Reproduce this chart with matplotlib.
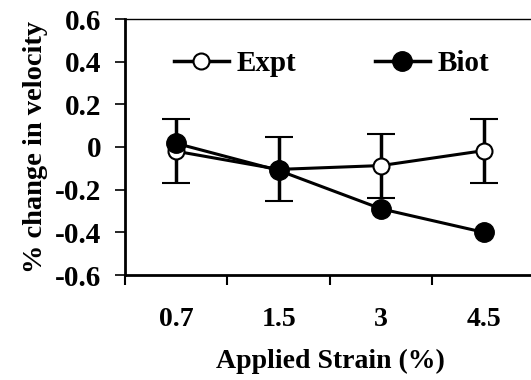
import numpy as np
import matplotlib
matplotlib.use("Agg")
import matplotlib.pyplot as plt
from matplotlib.lines import Line2D

strain = ["0.7", "1.5", "3", "4.5"]
expt = [-0.02, -0.105, -0.087, -0.017]
expt_err = [0.15, 0.15, 0.15, 0.15]
biot = [0.017, -0.11, -0.29, -0.40]

plt.rcParams["font.family"] = ["Liberation Serif", "DejaVu Serif"]
plt.rcParams["font.weight"] = "bold"

fig = plt.figure(figsize=(5.31, 3.8), dpi=100)
ax = fig.add_axes([125 / 531, 105 / 380, 410 / 531, 256 / 380])

x = np.arange(len(strain))
ax.errorbar(x, expt, yerr=expt_err, color="black", lw=2.2, marker="o", ms=11.5,
            mfc="white", mec="black", mew=1.5, capsize=10, capthick=2.5,
            elinewidth=2.5, zorder=2)
ax.plot(x, biot, color="black", lw=2.2, marker="o", ms=14, zorder=3)

ax.set_xlim(-0.5, 3.5)
ax.set_ylim(-0.6, 0.6)
ax.set_yticks(np.arange(-0.6, 0.61, 0.2))
ax.set_yticklabels(["-0.6", "-0.4", "-0.2", "0", "0.2", "0.4", "0.6"])

# ticks sit between categories, labels under the categories
ax.set_xticks(np.arange(-0.5, 3.6, 1.0))
ax.set_xticklabels([])
ax.set_xticks(x, minor=True)
ax.set_xticklabels(strain, minor=True)
ax.tick_params(axis="x", which="minor", length=0, pad=23, labelsize=20)
ax.tick_params(axis="x", which="major", direction="out", length=7, width=1.5)
ax.tick_params(axis="y", direction="out", length=7, width=1.2, labelsize=21, pad=10)

for side in ["left", "bottom"]:
    ax.spines[side].set_linewidth(2)
ax.spines["top"].set_linewidth(1)
ax.spines["right"].set_visible(False)

ax.set_xlabel("Applied Strain (%)", fontsize=20, fontweight="bold", labelpad=12)
ax.set_ylabel("% change in velocity", fontsize=20.5, fontweight="bold", labelpad=5)

handles = [
    Line2D([], [], color="black", lw=2.5, marker="o", ms=11.5, mfc="white", mew=1.5),
    Line2D([], [], color="black", lw=2.5, marker="o", ms=14),
]
ax.legend(handles, ["Expt", "Biot"], loc="upper left", bbox_to_anchor=(0.09, 0.925),
          ncol=2, frameon=False, fontsize=21, handlelength=1.9, handletextpad=0.25,
          columnspacing=2.7, borderaxespad=0)

fig.savefig("out.png", dpi=100)
